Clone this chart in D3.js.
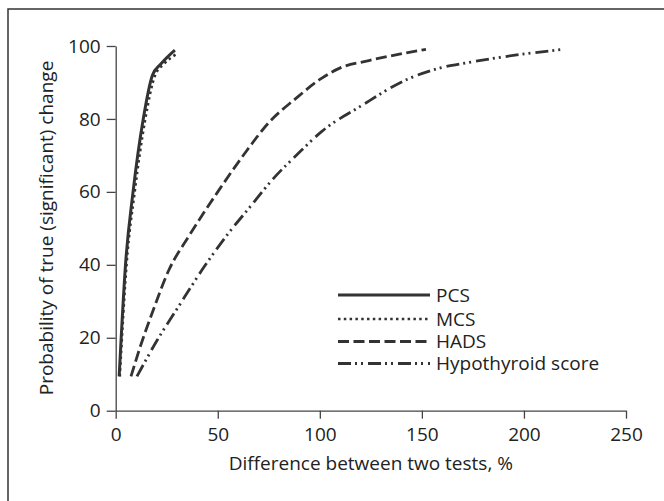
<!DOCTYPE html>
<html>
<head>
<meta charset="utf-8">
<script src="https://cdn.jsdelivr.net/npm/d3@7"></script>
<style>
  body { margin: 0; background: #fff; }
  svg { font-family: "Open Sans", sans-serif; }
</style>
</head>
<body>
<svg></svg>
<script>
const width = 664;
const height = 501;

const xTicks = [0, 50, 100, 150, 200, 250];
const yTicks = [0, 20, 40, 60, 80, 100];

const seriesNames = ["PCS", "MCS", "HADS", "Hypothyroid score"];

const pcsX = [1.7, 4.8, 8.5, 13.5, 18, 22, 29];
const pcsY = [9.4, 40, 60, 80, 92, 95, 98.9];

const mcsX = [2, 5.3, 9.3, 14.5, 19.3, 23.5, 30.4];
const mcsY = [9.4, 40, 60, 80, 92, 95, 98];

const hadsX = [7.5, 12, 18, 26, 36, 50, 63.8, 75, 88, 101, 110, 124, 152];
const hadsY = [9.4, 17.5, 27, 38.5, 48, 60, 71, 79, 85.5, 91.2, 94, 96, 99.1];

const hypoX = [10.4, 20.3, 30.7, 44, 55, 66, 77, 89, 101, 120, 142.6, 159, 172, 198.6, 218];
const hypoY = [9.4, 19.3, 28.5, 40, 48.5, 56, 63.5, 70.3, 76.6, 83.5, 90.8, 94, 95.4, 97.7, 99];

const seriesX = [pcsX, mcsX, hadsX, hypoX];
const seriesY = [pcsY, mcsY, hadsY, hypoY];
const dashes = ["none", "2.5 3.3", "11 4.5", "13 4 2 4 2 5"];
const widths = [3, 2.6, 2.8, 2.8];

const plotLeft = 115.7, plotRight = 626, plotTop = 46, plotBottom = 410.7;
const ink = "#333";

var xScale = d3.scaleLinear().domain([0, 250]).range([plotLeft, plotRight]);
var yScale = d3.scaleLinear().domain([0, 100]).range([plotBottom, plotTop]);

const svg = d3.select("svg").attr("width", width).attr("height", height);

// frame (only top and left edges show in the picture)
svg.append("path")
  .attr("d", `M8,${height + 10} V9 H${width + 10}`)
  .attr("fill", "none")
  .attr("stroke", ink)
  .attr("stroke-width", 1.5);

var xAxis = d3.axisBottom(xScale).tickValues(xTicks).tickSize(8).tickSizeOuter(0).tickPadding(9);
var yAxis = d3.axisLeft(yScale).tickValues(yTicks).tickSize(9).tickSizeOuter(0).tickPadding(6);

const gx = svg.append("g")
  .attr("transform", `translate(0, ${plotBottom})`)
  .call(xAxis);
const gy = svg.append("g")
  .attr("transform", `translate(${plotLeft}, 0)`)
  .call(yAxis);

[gx, gy].forEach(g => {
  g.select(".domain").attr("stroke", "#444").attr("stroke-width", 1.3);
  g.selectAll(".tick line").attr("stroke", "#444").attr("stroke-width", 1.3);
  g.selectAll(".tick text")
    .attr("fill", "#222")
    .style("font-size", "19px")
    .style("font-family", '"Open Sans", sans-serif');
});

const line = d3.line()
  .x(d => xScale(d[0]))
  .y(d => yScale(d[1]))
  .curve(d3.curveMonotoneX);

seriesNames.forEach((name, i) => {
  const pts = seriesX[i].map((x, j) => [x, seriesY[i][j]]);
  svg.append("path")
    .datum(pts)
    .attr("d", line)
    .attr("fill", "none")
    .attr("stroke", ink)
    .attr("stroke-width", widths[i])
    .attr("stroke-dasharray", dashes[i]);
});

// legend
const legendY = [295, 319, 341.5, 363.5];
seriesNames.forEach((name, i) => {
  svg.append("line")
    .attr("x1", 338).attr("x2", 430)
    .attr("y1", legendY[i]).attr("y2", legendY[i])
    .attr("stroke", ink)
    .attr("stroke-width", widths[i])
    .attr("stroke-dasharray", dashes[i]);
  svg.append("text")
    .attr("x", 436)
    .attr("y", legendY[i])
    .attr("dy", "0.36em")
    .attr("fill", "#222")
    .style("font-size", "19px")
    .text(name);
});

svg.append("text")
  .attr("x", (plotLeft + plotRight) / 2)
  .attr("y", 470)
  .style("text-anchor", "middle")
  .style("font-size", "19px")
  .attr("fill", "#222")
  .text("Difference between two tests, %");

svg.append("text")
  .attr("x", -228)
  .attr("y", 53)
  .attr("transform", "rotate(-90)")
  .style("text-anchor", "middle")
  .style("font-size", "19px")
  .attr("fill", "#222")
  .text("Probability of true (significant) change");
</script>
</body>
</html>
